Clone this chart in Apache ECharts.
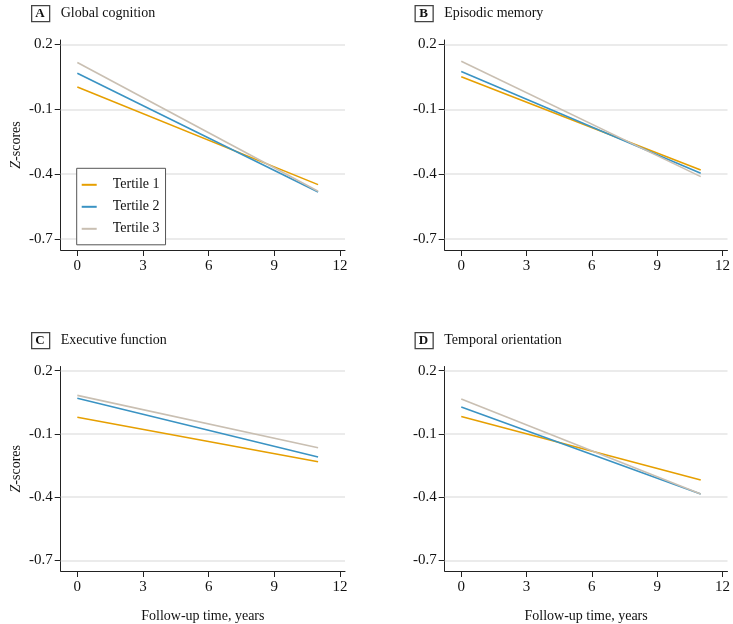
<!DOCTYPE html>
<html><head><meta charset="utf-8">
<script src="https://cdn.jsdelivr.net/npm/echarts@6/dist/echarts.min.js"></script>
<style>html,body{margin:0;padding:0;background:#fff}#c{width:733px;height:624px}</style>
</head><body><div id="c"></div>
<script>
// ---- data ----
const years = [0, 11];
const xTicks = [0, 3, 6, 9, 12];
const yTicks = [-0.7, -0.4, -0.1, 0.2];
const tertiles = ['Tertile 1', 'Tertile 2', 'Tertile 3'];
const panelLetters = ['A', 'B', 'C', 'D'];
const panelTitles = ['Global cognition', 'Episodic memory', 'Executive function', 'Temporal orientation'];

const globalT1 = [0.003, -0.448];
const globalT2 = [0.066, -0.482];
const globalT3 = [0.116, -0.479];

const episodicT1 = [0.050, -0.380];
const episodicT2 = [0.075, -0.395];
const episodicT3 = [0.122, -0.411];

const executiveT1 = [-0.021, -0.232];
const executiveT2 = [0.069, -0.209];
const executiveT3 = [0.083, -0.165];

const temporalT1 = [-0.017, -0.318];
const temporalT2 = [0.028, -0.385];
const temporalT3 = [0.066, -0.385];

const panelData = [
  [globalT1, globalT2, globalT3],
  [episodicT1, episodicT2, episodicT3],
  [executiveT1, executiveT2, executiveT3],
  [temporalT1, temporalT2, temporalT3]
];

// ---- style / layout ----
const FONT = 'Liberation Serif';
const colors = ['#E69F00', '#3A93C3', '#C9BFB2'];
const gridPos = [
  {left: 60.7, top: 40, width: 284.3, height: 210},
  {left: 444.7, top: 40, width: 284.3, height: 210},
  {left: 60.7, top: 366.5, width: 284.3, height: 210},
  {left: 444.7, top: 366.5, width: 284.3, height: 210}
];

const grids = [], xAxes = [], yAxes = [], series = [], graphics = [];
gridPos.forEach((g, i) => {
  grids.push(Object.assign({containLabel: false}, g));
  const bottomRow = i >= 2;
  const leftCol = i % 2 === 0;
  xAxes.push({
    type: 'value', gridIndex: i, min: -0.76, max: 12.23,
    axisLine: {show: true, onZero: false, lineStyle: {color: '#222', width: 1}},
    axisTick: {show: true, length: 6, customValues: xTicks, lineStyle: {color: '#222'}},
    axisLabel: {customValues: xTicks, margin: 9, color: '#111', fontFamily: FONT, fontSize: 15},
    splitLine: {show: false},
    name: bottomRow ? 'Follow-up time, years' : '',
    nameLocation: 'middle', nameGap: 38,
    nameTextStyle: {color: '#111', fontFamily: FONT, fontSize: 14}
  });
  yAxes.push({
    type: 'value', gridIndex: i, min: -0.75, max: 0.22,
    axisLine: {show: true, onZero: false, lineStyle: {color: '#222', width: 1}},
    axisTick: {show: true, length: 6, customValues: yTicks, lineStyle: {color: '#222'}},
    axisLabel: {customValues: yTicks, margin: 8, color: '#111', fontFamily: FONT, fontSize: 15,
      formatter: v => String(v)},
    splitLine: {show: false},
    name: leftCol ? '{i|Z}-scores' : '',
    nameLocation: 'middle', nameGap: 37, nameRotate: 90,
    nameTextStyle: {color: '#111', fontFamily: FONT, fontSize: 14,
      rich: {i: {fontStyle: 'italic', fontFamily: FONT, fontSize: 14, color: '#111'}}}
  });
  panelData[i].forEach((vals, k) => {
    series.push({
      type: 'line', name: tertiles[k], xAxisIndex: i, yAxisIndex: i,
      data: years.map((x, j) => [x, vals[j]]),
      symbol: 'none', silent: true,
      lineStyle: {color: colors[k], width: 1.6}, itemStyle: {color: colors[k]},
      z: 3 + k,
      markLine: k === 0 ? {
        silent: true, symbol: 'none', label: {show: false},
        lineStyle: {color: '#E4E4E4', width: 1.5, type: 'solid'},
        data: yTicks.map(v => ({yAxis: v})), z: 1
      } : undefined
    });
  });
  // panel title box
  const bx = leftCol ? 31 : 414.5;
  const by = bottomRow ? 332 : 5;
  graphics.push({
    type: 'rect', left: bx, top: by, shape: {width: 18, height: 16},
    style: {fill: '#fff', stroke: '#444', lineWidth: 1.3}
  });
  graphics.push({
    type: 'text', x: bx + 9, y: by + 8.5,
    style: {text: panelLetters[i], font: 'bold 13px "Liberation Serif"', fill: '#111',
      textAlign: 'center', textVerticalAlign: 'middle'}
  });
  graphics.push({
    type: 'text', x: bx + 29.7, y: by + 8,
    style: {text: panelTitles[i], font: '14px "Liberation Serif"', fill: '#111',
      textAlign: 'left', textVerticalAlign: 'middle'}
  });
});

const chart = echarts.init(document.getElementById('c'), null, {renderer: 'canvas'});
chart.setOption({
  backgroundColor: '#fff',
  animation: false,
  grid: grids, xAxis: xAxes, yAxis: yAxes, series: series,
  graphic: graphics,
  legend: {
    data: tertiles, orient: 'vertical', left: 76.7, top: 168.3,
    itemWidth: 15, itemHeight: 2, icon: 'rect', itemGap: 8,
    padding: [9.5, 6, 9, 5], borderColor: '#555', borderWidth: 1,
    backgroundColor: '#fff',
    textStyle: {fontFamily: FONT, fontSize: 14, color: '#111', padding: [0, 0, 0, 11], lineHeight: 14}
  }
});
</script>
</body></html>
